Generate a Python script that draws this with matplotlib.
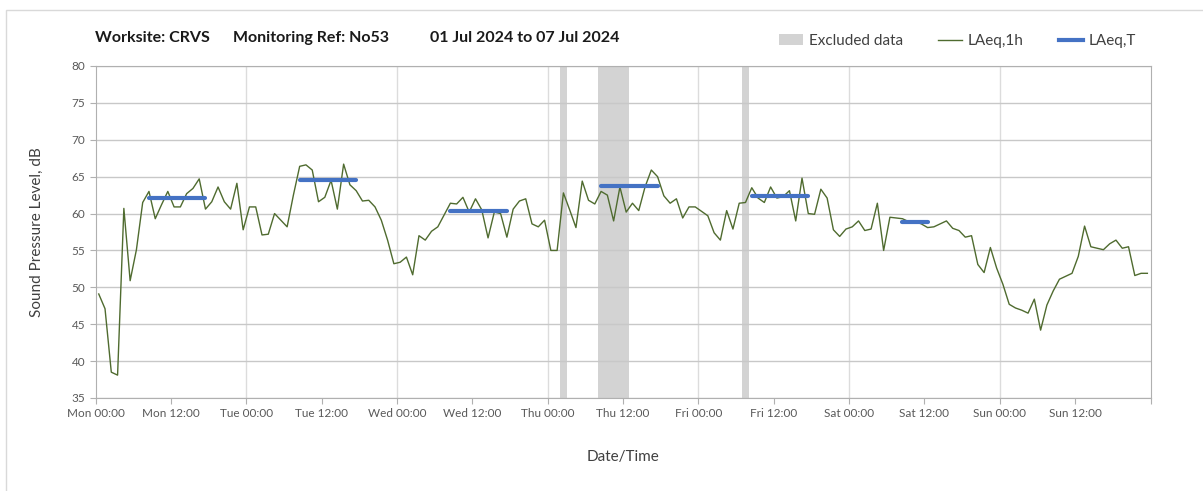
import matplotlib
matplotlib.use('Agg')
import numpy as np
import pandas as pd
import matplotlib.pyplot as plt
from matplotlib.patches import Patch, Rectangle
from matplotlib.lines import Line2D

plt.rcParams['font.family'] = ['Lato', 'DejaVu Sans']

# hourly LAeq,1h values, Mon 00:30 .. Sun 23:30
laeq_1h = [
    49.1, 47.1, 38.5, 38.1, 60.7, 50.9, 55.1, 61.5, 63.0, 59.3, 61.2, 63.0,
    60.9, 60.9, 62.7, 63.4, 64.7, 60.6, 61.6, 63.6, 61.6, 60.6, 64.1, 57.8,
    60.9, 60.9, 57.1, 57.2, 60.0, 59.1, 58.2, 62.5, 66.4, 66.6, 65.9, 61.6,
    62.2, 64.5, 60.6, 66.7, 63.9, 63.1, 61.7, 61.8, 60.9, 59.1, 56.4, 53.2,
    53.4, 54.1, 51.7, 57.0, 56.4, 57.6, 58.2, 59.8, 61.4, 61.3, 62.2, 60.2,
    62.0, 60.5, 56.7, 60.2, 60.0, 56.8, 60.6, 61.7, 62.0, 58.6, 58.2, 59.1,
    55.0, 55.0, 62.8, 60.5, 58.1, 64.4, 61.8, 61.3, 63.0, 62.5, 59.0, 63.6,
    60.2, 61.4, 60.4, 63.6, 65.9, 65.0, 62.4, 61.4, 62.0, 59.4, 60.9, 60.9,
    60.3, 59.7, 57.4, 56.4, 60.4, 57.9, 61.4, 61.5, 63.5, 62.1, 61.5, 63.6,
    62.1, 62.3, 63.1, 59.0, 64.8, 60.0, 59.9, 63.3, 62.1, 57.8, 56.9, 57.9,
    58.2, 59.0, 57.7, 57.9, 61.4, 55.0, 59.5, 59.4, 59.3, 58.9, 58.9, 58.6,
    58.1, 58.2, 58.6, 59.0, 58.0, 57.7, 56.8, 57.0, 53.1, 52.0, 55.4, 52.6,
    50.4, 47.7, 47.2, 46.9, 46.5, 48.4, 44.2, 47.6, 49.5, 51.1, 51.5, 51.9,
    54.2, 58.3, 55.5, 55.3, 55.1, 55.9, 56.4, 55.3, 55.5, 51.6, 51.9, 51.9,
]
times = pd.date_range('2024-07-01 00:30', periods=len(laeq_1h), freq='h')

# period LAeq,T
period_start = ['2024-07-01 08:30', '2024-07-02 08:30', '2024-07-03 08:30',
                '2024-07-04 08:30', '2024-07-05 08:30', '2024-07-06 08:30']
period_end = ['2024-07-01 17:30', '2024-07-02 17:30', '2024-07-03 17:30',
              '2024-07-04 17:30', '2024-07-05 17:30', '2024-07-06 12:30']
laeq_t = [62.1, 64.6, 60.4, 63.7, 62.4, 58.8]

# excluded periods
excl_start = ['2024-07-04 02:00', '2024-07-04 08:00', '2024-07-05 07:00']
excl_end = ['2024-07-04 03:00', '2024-07-04 13:00', '2024-07-05 08:00']

title_parts = ['Worksite: CRVS', 'Monitoring Ref: No53', '01 Jul 2024 to 07 Jul 2024']

fig = plt.figure(figsize=(12.03, 4.91), dpi=100)
fig.patches.append(Rectangle((6/1203, -0.1), 1.1, 1 - 10/491 + 0.1, transform=fig.transFigure,
                             fill=False, edgecolor='#d9d9d9', linewidth=1))
ax = fig.add_axes([95.6/1203, 1 - 398/491, (1150.5 - 95.6)/1203, (398 - 66)/491])

green = '#4f6b2f'
blue = '#4472c4'
band = '#d3d3d3'

for s, e in zip(excl_start, excl_end):
    ax.axvspan(pd.Timestamp(s), pd.Timestamp(e), color=band, lw=0, zorder=0.3)

ax.plot(times, laeq_1h, color=green, lw=1.0, zorder=2)
for s, e, v in zip(period_start, period_end, laeq_t):
    ax.plot([pd.Timestamp(s), pd.Timestamp(e)], [v, v], color=blue, lw=3,
            solid_capstyle='round', zorder=3)

x0 = pd.Timestamp('2024-07-01 00:00')
x1 = pd.Timestamp('2024-07-08 00:00')
ax.set_xlim(x0, x1)
ax.set_ylim(35, 80)
ax.set_yticks(np.arange(35, 81, 5))

ticks = pd.date_range(x0, x1, freq='12h')
ax.set_xticks(ticks)
labels = [t.strftime('%a %H:%M') for t in ticks]
labels[-1] = ''
ax.set_xticklabels(labels)

ax.set_axisbelow(True)
ax.grid(axis='y', color='#c8c8c8', lw=1)
for d in pd.date_range(x0, x1, freq='D')[1:-1]:
    ax.axvline(d, color='#dcdcdc', lw=1, zorder=0.5)

for sp in ax.spines.values():
    sp.set_color('#b0b0b0')
ax.tick_params(axis='both', colors='#b0b0b0', labelcolor='#595959', labelsize=8.5,
               length=4, direction='out')

ax.set_ylabel('Sound Pressure Level, dB', fontsize=11, color='#404040', labelpad=20)
ax.set_xlabel('Date/Time', fontsize=11, color='#404040', labelpad=22)

for xp, txt in zip([95, 233, 430], title_parts):
    fig.text(xp/1203, 1 - 38/491, txt, fontsize=11.5, fontweight='bold',
             color='#1a1a1a', ha='left', va='center')

handles = [Patch(facecolor=band, edgecolor='none'),
           Line2D([0], [0], color=green, lw=1.0),
           Line2D([0], [0], color=blue, lw=3)]
fig.legend(handles, ['Excluded data', 'LAeq,1h', 'LAeq,T'], loc='center left',
           bbox_to_anchor=(765/1203, 1 - 41/491), ncol=3, frameon=False,
           fontsize=11, labelcolor='#404040', handlelength=1.6, handletextpad=0.35,
           columnspacing=2.3)

plt.savefig('out.png', dpi=100)
